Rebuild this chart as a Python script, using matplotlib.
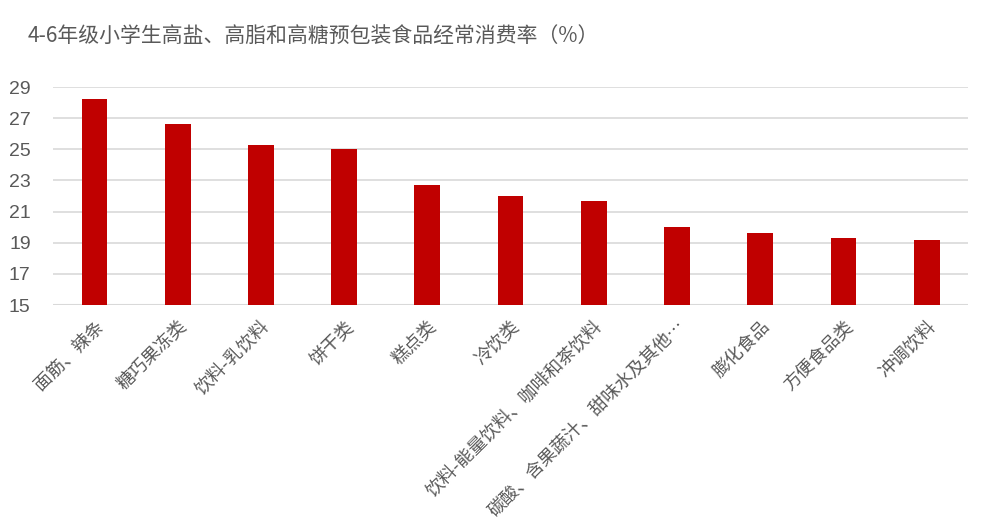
import matplotlib
matplotlib.use('Agg')
import matplotlib.pyplot as plt

plt.rcParams['font.family'] = ['Noto Sans CJK SC', 'DejaVu Sans']

categories = ['面筋、辣条', '糖巧果冻类', '饮料-乳饮料', '饼干类', '糕点类', '冷饮类',
              '饮料-能量饮料、咖啡和茶饮料', '碳酸、含果蔬汁、甜味水及其他…',
              '膨化食品', '方便食品类', '冲调饮料']
values = [28.2, 26.6, 25.3, 25.0, 22.7, 22.0, 21.7, 20.0, 19.6, 19.3, 19.2]
yticks = [15, 17, 19, 21, 23, 25, 27, 29]

grey = '#595959'

fig = plt.figure(figsize=(9.9, 5.3), dpi=100)
ax = fig.add_axes([0.0535, 0.4245, 0.9245, 0.4113])

x = range(len(categories))
ax.bar(x, values, width=0.31, color='#C00000', zorder=3)

ax.set_ylim(15, 29)
ax.set_xlim(-0.5, len(categories) - 0.5)
ax.set_yticks(yticks)
ax.set_yticklabels([str(v) for v in yticks], fontsize=14, color=grey,
                   family='Liberation Sans')
ax.yaxis.grid(True, color='#D9D9D9', linewidth=1.2, zorder=0)
ax.tick_params(axis='both', length=0)
ax.tick_params(axis='y', pad=16)

ax.set_xticks(list(x))
ax.set_xticklabels(categories, rotation=45, ha='right', rotation_mode='anchor',
                   fontsize=13, color=grey)
ax.tick_params(axis='x', pad=9)

for s in ax.spines.values():
    s.set_visible(False)
ax.axhline(15, color='#D9D9D9', linewidth=1.5, zorder=1)

fig.text(0.028, 0.932, '4-6年级小学生高盐、高脂和高糖预包装食品经常消费率（%）',
         fontsize=15, color=grey, va='center')

fig.savefig('out.png', dpi=100)
